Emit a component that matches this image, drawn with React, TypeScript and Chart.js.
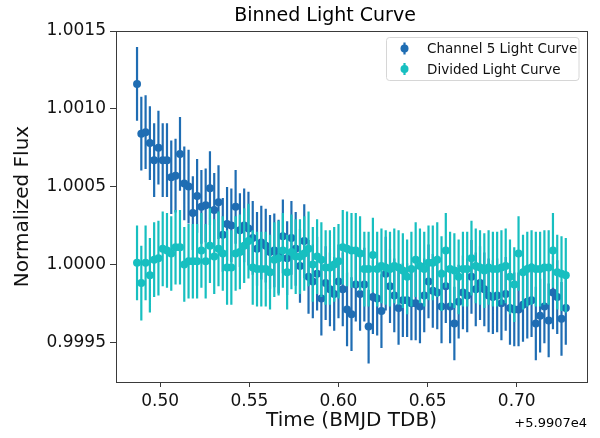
import React, { useEffect, useRef } from "react";
import { Chart, registerables } from "chart.js";

Chart.register(...registerables);

const times = [
  0.4870, 0.4894, 0.4918, 0.4942, 0.4966, 0.4990, 0.5014, 0.5038, 0.5062, 0.5086,
  0.5111, 0.5135, 0.5159, 0.5183, 0.5207, 0.5231, 0.5255, 0.5279, 0.5303, 0.5327,
  0.5351, 0.5375, 0.5399, 0.5423, 0.5447, 0.5471, 0.5495, 0.5519, 0.5543, 0.5567,
  0.5592, 0.5616, 0.5640, 0.5664, 0.5688, 0.5712, 0.5736, 0.5760, 0.5784, 0.5808,
  0.5832, 0.5856, 0.5880, 0.5904, 0.5928, 0.5952, 0.5976, 0.6000, 0.6024, 0.6048,
  0.6073, 0.6097, 0.6121, 0.6145, 0.6169, 0.6193, 0.6217, 0.6241, 0.6265, 0.6289,
  0.6313, 0.6337, 0.6361, 0.6385, 0.6409, 0.6433, 0.6457, 0.6481, 0.6505, 0.6529,
  0.6554, 0.6578, 0.6602, 0.6626, 0.6650, 0.6674, 0.6698, 0.6722, 0.6746, 0.6770,
  0.6794, 0.6818, 0.6842, 0.6866, 0.6890, 0.6914, 0.6938, 0.6962, 0.6986, 0.7010,
  0.7035, 0.7059, 0.7083, 0.7107, 0.7131, 0.7155, 0.7179, 0.7203, 0.7227, 0.7251,
  0.7275,
];

const channel5Flux = [
  1.00116, 1.00084, 1.00085, 1.00078, 1.00067, 1.00075, 1.00067, 1.00067, 1.00056, 1.00057,
  1.00071, 1.00052, 1.00050, 1.00033, 1.00044, 1.00037, 1.00038, 1.00049, 1.00035, 1.00040,
  1.00019, 1.00026, 1.00025, 1.00037, 1.00022, 1.00025, 1.00023, 1.00017, 1.00010, 1.00014,
  1.00012, 1.00008, 1.00009, 1.00005, 1.00018, 1.00004, 1.00017, 1.00010, 0.99999, 1.00015,
  0.99992, 0.99989, 0.99994, 0.99978, 0.99988, 0.99984, 0.99981, 0.99989, 0.99984, 0.99971,
  0.99968, 0.99987, 0.99981, 0.99987, 0.99960, 0.99979, 0.99978, 0.99970, 0.99994, 0.99986,
  0.99980, 0.99972, 0.99977, 0.99977, 0.99975, 0.99975, 0.99973, 0.99980, 0.99989, 0.99983,
  0.99982, 0.99973, 0.99986, 0.99973, 0.99962, 0.99976, 0.99982, 0.99980, 0.99992, 0.99984,
  0.99988, 0.99984, 0.99980, 0.99979, 0.99980, 0.99975, 0.99981, 0.99972, 0.99971, 0.99971,
  0.99974, 0.99976, 0.99977, 0.99962, 0.99967, 0.99973, 0.99964, 0.99982, 0.99979, 0.99965,
  0.99972,
];

const dividedFlux = [
  1.00001, 0.99988, 1.00001, 0.99993, 1.00003, 1.00004, 1.00010, 1.00009, 1.00007, 1.00011,
  1.00011, 1.00000, 1.00002, 1.00002, 1.00002, 1.00009, 1.00002, 1.00012, 1.00005, 1.00010,
  1.00007, 0.99998, 0.99998, 1.00007, 1.00008, 1.00012, 1.00015, 0.99998, 0.99997, 0.99997,
  0.99997, 0.99995, 1.00003, 1.00004, 1.00009, 0.99995, 1.00008, 1.00005, 1.00005, 1.00007,
  1.00010, 1.00000, 1.00005, 1.00003, 0.99998, 0.99998, 1.00000, 1.00002, 1.00011, 1.00010,
  1.00009, 1.00009, 1.00007, 0.99997, 0.99997, 1.00006, 0.99997, 0.99999, 0.99998, 0.99997,
  0.99999, 0.99998, 0.99996, 0.99992, 0.99997, 1.00003, 0.99999, 0.99997, 1.00001, 1.00001,
  1.00003, 0.99994, 1.00009, 0.99997, 0.99996, 0.99992, 0.99997, 0.99997, 1.00004, 0.99999,
  0.99998, 0.99996, 0.99998, 0.99997, 0.99997, 0.99998, 0.99999, 0.99992, 0.99987, 1.00007,
  0.99995, 0.99997, 0.99998, 0.99997, 0.99997, 0.99998, 0.99998, 1.00009, 0.99995, 0.99994,
  0.99993,
];

const channel5Err = 0.000237;
const dividedErr = 0.00024;

const seriesNames = ["Channel 5 Light Curve", "Divided Light Curve"];
const xTicks = [0.5, 0.55, 0.6, 0.65, 0.7];
const yTicks = [0.9995, 1.0, 1.0005, 1.001, 1.0015];
const offsetLabel = "+5.9907e4";
const titleText = "Binned Light Curve";

const DARK = "#1f6db3";
const CYAN = "#17bfc0";
const FRAME = "#3a3a3a";
const FONT = "'DejaVu Sans', sans-serif";

const errorsBySeries = [channel5Err, dividedErr];

const errorBarPlugin = {
  id: "errorBars",
  beforeDatasetDraw(chart: any, args: any) {
    const ds = chart.data.datasets[args.index];
    const err = errorsBySeries[args.index];
    const yScale = chart.scales.y;
    const ctx = chart.ctx;
    const area = chart.chartArea;
    ctx.save();
    ctx.beginPath();
    ctx.rect(area.left, area.top, area.right - area.left, area.bottom - area.top);
    ctx.clip();
    ctx.strokeStyle = ds.borderColor;
    ctx.lineWidth = 2.2;
    ctx.beginPath();
    args.meta.data.forEach((pt: any, i: number) => {
      const d = ds.data[i];
      const y1 = yScale.getPixelForValue(d.y - err);
      const y2 = yScale.getPixelForValue(d.y + err);
      ctx.moveTo(pt.x, y1);
      ctx.lineTo(pt.x, y2);
    });
    ctx.stroke();
    ctx.restore();
  },
};

const decorPlugin = {
  id: "decor",
  afterDraw(chart: any) {
    const ctx = chart.ctx;
    const a = chart.chartArea;
    ctx.save();
    ctx.strokeStyle = FRAME;
    ctx.lineWidth = 1;
    ctx.strokeRect(Math.round(a.left) + 0.5, Math.round(a.top) + 0.5, Math.round(a.right - a.left), Math.round(a.bottom - a.top));
    ctx.fillStyle = "#000";
    ctx.font = `19px ${FONT}`;
    ctx.textAlign = "center";
    ctx.textBaseline = "alphabetic";
    ctx.fillText(titleText, 325, 21);
    ctx.font = `13px ${FONT}`;
    ctx.textAlign = "right";
    ctx.fillText(offsetLabel, a.right, 427);
    const lx = 386.5, ly = 37.5, lw = 192.5, lh = 43;
    const r = 3;
    ctx.beginPath();
    ctx.moveTo(lx + r, ly);
    ctx.lineTo(lx + lw - r, ly);
    ctx.quadraticCurveTo(lx + lw, ly, lx + lw, ly + r);
    ctx.lineTo(lx + lw, ly + lh - r);
    ctx.quadraticCurveTo(lx + lw, ly + lh, lx + lw - r, ly + lh);
    ctx.lineTo(lx + r, ly + lh);
    ctx.quadraticCurveTo(lx, ly + lh, lx, ly + lh - r);
    ctx.lineTo(lx, ly + r);
    ctx.quadraticCurveTo(lx, ly, lx + r, ly);
    ctx.closePath();
    ctx.fillStyle = "rgba(255,255,255,0.8)";
    ctx.fill();
    ctx.strokeStyle = "#d6d6d6";
    ctx.lineWidth = 1;
    ctx.stroke();
    const colors = [DARK, CYAN];
    const rows = [48.5, 69];
    ctx.font = `13.5px ${FONT}`;
    ctx.textAlign = "left";
    ctx.textBaseline = "middle";
    seriesNames.forEach((name, i) => {
      const cy = rows[i];
      ctx.strokeStyle = colors[i];
      ctx.lineWidth = 2.2;
      ctx.beginPath();
      ctx.moveTo(404.5, cy - 6);
      ctx.lineTo(404.5, cy + 6);
      ctx.stroke();
      ctx.fillStyle = colors[i];
      ctx.beginPath();
      ctx.arc(404.5, cy, 4, 0, Math.PI * 2);
      ctx.fill();
      ctx.fillStyle = "#111";
      ctx.fillText(name, 427, cy + 1);
    });
    ctx.restore();
  },
};

export default function App() {
  const ref = useRef<HTMLCanvasElement | null>(null);
  useEffect(() => {
    if (!ref.current) return;
    const chart = new Chart(ref.current, {
      type: "scatter",
      data: {
        datasets: [
          {
            label: seriesNames[0],
            data: times.map((t, i) => ({ x: t, y: channel5Flux[i] })),
            borderColor: DARK,
            backgroundColor: DARK,
            pointRadius: 4,
            pointBorderWidth: 0,
            order: 2,
          },
          {
            label: seriesNames[1],
            data: times.map((t, i) => ({ x: t, y: dividedFlux[i] })),
            borderColor: CYAN,
            backgroundColor: CYAN,
            pointRadius: 4,
            pointBorderWidth: 0,
            order: 1,
          },
        ],
      },
      options: {
        responsive: false,
        animation: false,
        layout: { padding: { top: 31, right: 13, left: 0, bottom: 0 } },
        plugins: {
          legend: { display: false },
          tooltip: { enabled: false },
          title: { display: false },
        },
        scales: {
          x: {
            type: "linear",
            min: 0.4752,
            max: 0.7394,
            afterFit: (s: any) => {
              s.height = 56;
            },
            afterBuildTicks: (s: any) => {
              s.ticks = xTicks.map((v) => ({ value: v }));
            },
            ticks: {
              color: "#111",
              font: { family: FONT, size: 17 },
              padding: 4,
              maxRotation: 0,
              autoSkip: false,
              callback: (v: any) => Number(v).toFixed(2),
            },
            grid: {
              display: true,
              drawOnChartArea: false,
              drawTicks: true,
              tickLength: 5,
              tickColor: FRAME,
            },
            border: { display: false },
            title: {
              display: true,
              text: "Time (BMJD TDB)",
              color: "#111",
              font: { family: FONT, size: 20 },
              padding: { top: 0, bottom: 5 },
            },
          },
          y: {
            type: "linear",
            min: 0.999244,
            max: 1.0015,
            afterFit: (s: any) => {
              s.width = 116;
            },
            afterBuildTicks: (s: any) => {
              s.ticks = yTicks.map((v) => ({ value: v }));
            },
            ticks: {
              color: "#111",
              font: { family: FONT, size: 17 },
              padding: 4,
              autoSkip: false,
              callback: (v: any) => Number(v).toFixed(4),
            },
            grid: {
              display: true,
              drawOnChartArea: false,
              drawTicks: true,
              tickLength: 6,
              tickColor: FRAME,
            },
            border: { display: false },
            title: {
              display: true,
              text: "Normalized Flux",
              color: "#111",
              font: { family: FONT, size: 20 },
              padding: { top: 11, bottom: 0 },
            },
          },
        },
      },
      plugins: [errorBarPlugin, decorPlugin],
    });
    return () => chart.destroy();
  }, []);
  return (
    <div style={{ position: "fixed", left: 0, top: 0, width: 600, height: 438, background: "#fff" }}>
      <canvas ref={ref} width={600} height={438} />
    </div>
  );
}
